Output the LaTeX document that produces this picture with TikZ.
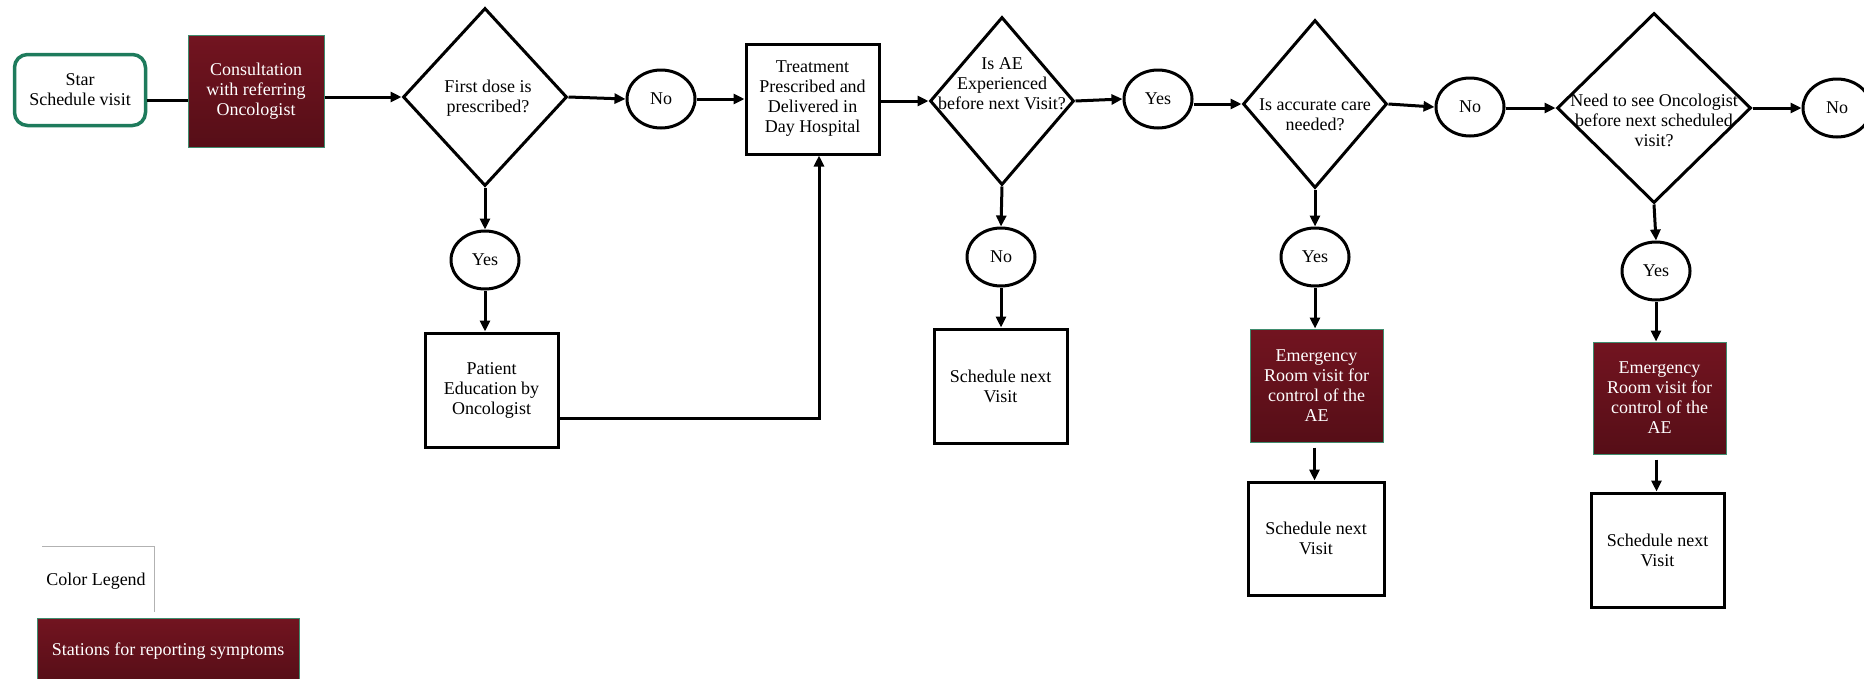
\documentclass[tikz,border=0pt]{standalone}
\usepackage{fontspec}
\setmainfont{Liberation Serif}
\usetikzlibrary{shapes.geometric,arrows.meta}
\definecolor{redtop}{HTML}{721420}
\definecolor{redbot}{HTML}{560E17}
\definecolor{gborder}{HTML}{1E7B5C}
\definecolor{rborder}{HTML}{3F8C6E}
\begin{document}
\begin{tikzpicture}[x=1pt,y=-1pt,
  every node/.style={font=\fontsize{18}{20}\selectfont, align=center},
  wbox/.style={draw=black, line width=3pt, fill=white, inner sep=0pt},
  rbox/.style={draw=rborder, line width=1pt, top color=redtop, bottom color=redbot, text=white, inner sep=0pt},
  dia/.style={draw, diamond, line width=3pt, inner sep=0pt},
  oval/.style={draw, ellipse, line width=3pt, minimum width=68pt, minimum height=58pt, inner sep=0pt},
  arr/.style={line width=3pt, -{Triangle[length=11pt,width=10pt]}},
  ln/.style={line width=3pt}
]
\useasboundingbox (0,0) rectangle (1864,678);

% start and consultation
\node[draw=gborder, line width=3.5pt, rounded corners=13pt, fill=white,
      minimum width=131pt, minimum height=71pt, inner sep=0pt] (start) at (80,90) {Star\\Schedule visit};
\node[rbox, minimum width=136pt, minimum height=112pt] (consult) at (256,91) {Consultation\\with referring\\Oncologist};

% diamonds
\node[dia, minimum width=164pt, minimum height=178pt] (d1) at (485,97) {};
\node (d1t) at (488,98) {First dose is\\prescribed?};
\node[dia, minimum width=144pt, minimum height=168pt] (d2) at (1002,101) {};
\node (d2t) at (1002,84) {Is AE\\Experienced\\before next Visit?};
\node[dia, minimum width=144pt, minimum height=168pt] (d3) at (1315,104) {};
\node (d3t) at (1315,115) {Is accurate care\\needed?};
\node[dia, minimum width=194pt, minimum height=190pt] (d4) at (1654,108) {};
\node (d4t) at (1654,120) {Need to see Oncologist\\before next scheduled\\visit?};

% ovals
\node[oval] (no1) at (661,99) {No};
\node[oval] (yes1) at (1158,99) {Yes};
\node[oval] (no2) at (1470,107) {No};
\node[oval] (no3) at (1837,108) {No};
\node[oval] (yes2) at (485,260) {Yes};
\node[oval] (no4) at (1001,257) {No};
\node[oval] (yes3) at (1315,257) {Yes};
\node[oval] (yes4) at (1656,271) {Yes};

% white boxes
\node[wbox, minimum width=133pt, minimum height=110pt] (treat) at (812.5,99) {Treatment\\Prescribed and\\Delivered in\\Day Hospital};
\node[wbox, minimum width=133pt, minimum height=114pt] (patient) at (491.5,390) {Patient\\Education by\\Oncologist};
\node[wbox, minimum width=133pt, minimum height=114pt] (sched1) at (1000.5,386) {Schedule next\\Visit};
\node[wbox, minimum width=136pt, minimum height=113pt] (sched2) at (1316,538.5) {Schedule next\\Visit};
\node[wbox, minimum width=133pt, minimum height=114pt] (sched3) at (1657.5,550) {Schedule next\\Visit};

% red boxes
\node[rbox, minimum width=133pt, minimum height=113pt] (er1) at (1316.5,385.5) {Emergency\\Room visit for\\control of the\\AE};
\node[rbox, minimum width=133pt, minimum height=112pt] (er2) at (1659.5,398) {Emergency\\Room visit for\\control of the\\AE};

% legend
\node (legt) at (96,581) {Color Legend};
\draw[black!30, line width=1pt] (42,546) -- (154,546) -- (154,612);
\node[rbox, minimum width=262pt, minimum height=66pt] (leg) at (168,651) {Stations for reporting symptoms};

% connectors
\draw[ln] ([yshift=-10pt]start.east) -- ([yshift=-9pt]consult.west);
\draw[arr] (consult.east |- d1.west) -- (d1.west);
\draw[arr] (d1.east) -- (no1.west);
\draw[arr] (no1.east) -- (treat.west |- no1.east);
\draw[arr] (treat.east |- d2.west) -- (d2.west);
\draw[arr] (d2.east) -- (yes1.west);
\draw[arr] (yes1.east |- d3.west) -- (d3.west);
\draw[arr] (d3.east) -- (no2.west);
\draw[arr] (no2.east |- d4.west) -- (d4.west);
\draw[arr] (d4.east) -- (no3.west);

\draw[arr] (d1.south) -- (yes2.north);
\draw[arr] (yes2.south) -- (yes2.south |- patient.north);
\draw[arr] ([yshift=-28pt]patient.east) -| ([xshift=6.5pt]treat.south);

\draw[arr] (d2.south) -- (no4.north);
\draw[arr] (no4.south) -- (no4.south |- sched1.north);

\draw[arr] (d3.south) -- (yes3.north);
\draw[arr] (yes3.south) -- (yes3.south |- er1.north);
\draw[arr, shorten <=5pt] ([xshift=-2pt]er1.south) -- ([xshift=-2pt]er1.south |- sched2.north);

\draw[arr] (d4.south) -- (yes4.north);
\draw[arr] (yes4.south) -- (yes4.south |- er2.north);
\draw[arr, shorten <=5pt] ([xshift=-3pt]er2.south) -- ([xshift=-3pt]er2.south |- sched3.north);
\end{tikzpicture}
\end{document}
